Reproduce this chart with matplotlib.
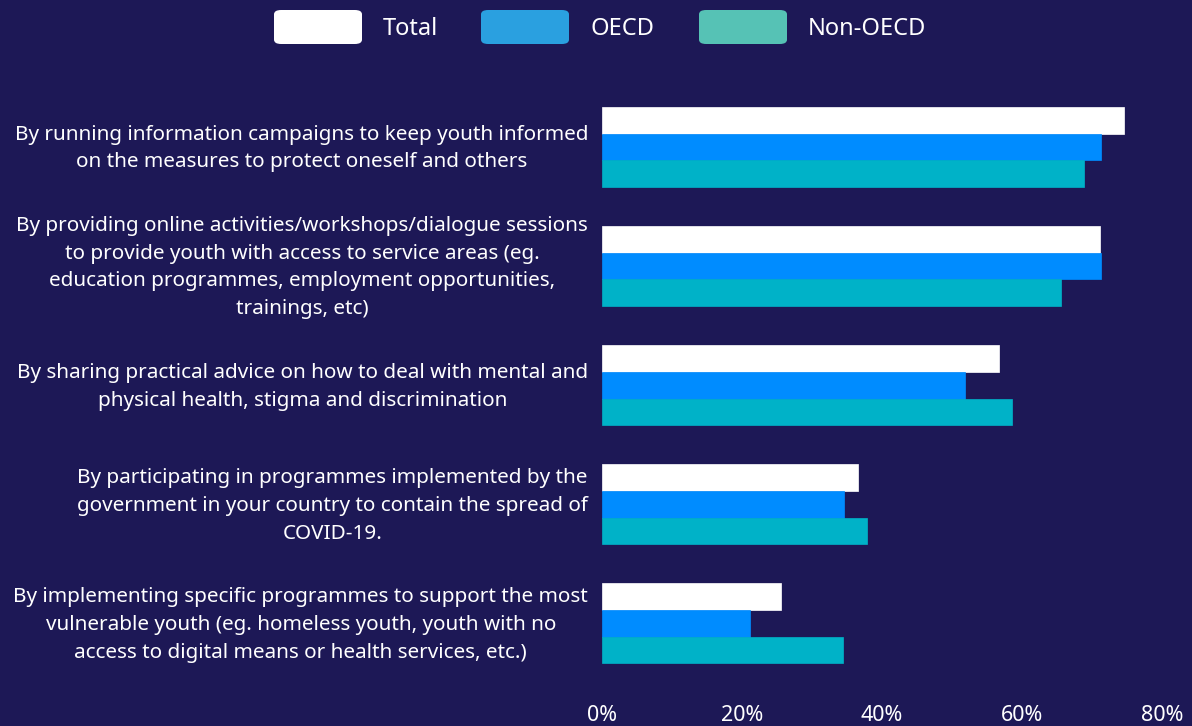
import matplotlib
matplotlib.use("Agg")
import matplotlib.pyplot as plt
from matplotlib.patches import FancyBboxPatch
from matplotlib.transforms import ScaledTranslation
import numpy as np

plt.rcParams['font.family'] = ['Noto Sans', 'DejaVu Sans']

categories = [
    "By running information campaigns to keep youth informed\non the measures to protect oneself and others",
    "By providing online activities/workshops/dialogue sessions\nto provide youth with access to service areas (eg.\neducation programmes, employment opportunities,\ntrainings, etc)",
    "By sharing practical advice on how to deal with mental and\nphysical health, stigma and discrimination",
    "By participating in programmes implemented by the\ngovernment in your country to contain the spread of\nCOVID-19.",
    "By implementing specific programmes to support the most\nvulnerable youth (eg. homeless youth, youth with no\naccess to digital means or health services, etc.)",
]
series_names = ["Total", "OECD", "Non-OECD"]
total = [74.6, 71.1, 56.7, 36.6, 25.6]
oecd = [71.3, 71.3, 51.9, 34.6, 21.2]
non_oecd = [68.9, 65.5, 58.6, 37.9, 34.4]
xticks = [0, 20, 40, 60, 80]
xtick_labels = ["0%", "20%", "40%", "60%", "80%"]

bg = "#1d1856"
bar_colors = ["#ffffff", "#008cff", "#00b2c8"]
legend_colors = ["#ffffff", "#2aa0e0", "#56c2b5"]

fig = plt.figure(figsize=(11.92, 7.26), dpi=100, facecolor=bg)
ax = fig.add_axes([602/1192, 43/726, 560/1192, 595.5/726])
ax.set_facecolor(bg)

y = np.arange(len(categories))
h = 0.224
for i, (vals, c) in enumerate(zip([total, oecd, non_oecd], bar_colors)):
    ax.barh(y + (i - 1) * h, vals, height=h, color=c, edgecolor=c, linewidth=0.5)

ax.set_ylim(len(categories) - 0.5, -0.5)
ax.set_xlim(0, 80)
ax.set_xticks(xticks)
ax.set_xticklabels(xtick_labels, color="white", fontsize=15.5)
ax.set_yticks(y)
ax.set_yticklabels(categories, color="white", fontsize=14.9, ha="right",
                   multialignment="center", linespacing=1.52)
ax.tick_params(axis="x", length=0, pad=15.5)
ax.tick_params(axis="y", length=0, pad=10)
shift = ScaledTranslation(0, 0.05, fig.dpi_scale_trans)
for lab in ax.get_yticklabels():
    lab.set_transform(lab.get_transform() + shift)
for s in ax.spines.values():
    s.set_visible(False)

# legend
W, H = 1192, 726
sw_x = [274, 481, 699]
tx_x = [383, 590, 808]
for name, c, sx, tx in zip(series_names, legend_colors, sw_x, tx_x):
    p = FancyBboxPatch((sx / W, (H - 44) / H), 88 / W, 34 / H,
                       boxstyle="round,pad=0,rounding_size=0.006",
                       transform=fig.transFigure, facecolor=c, edgecolor="none")
    fig.patches.append(p)
    fig.text(tx / W, (H - 29) / H, name, color="white", fontsize=17,
             va="center", ha="left")

fig.savefig("out.png", dpi=100, facecolor=bg)
